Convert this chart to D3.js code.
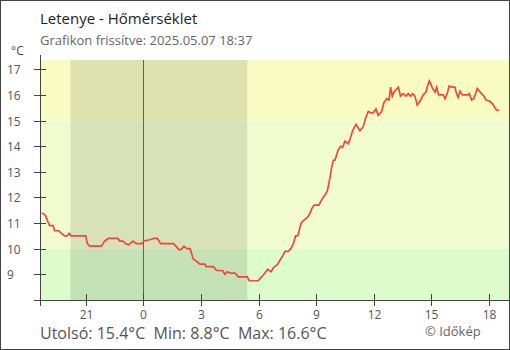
<!DOCTYPE html>
<html><head><meta charset="utf-8">
<script src="https://cdn.jsdelivr.net/npm/d3@7"></script>
<style>
body{margin:0;background:#fff;}
svg{display:block;font-family:"Open Sans",sans-serif;}
</style></head>
<body>
<svg id="c" width="510" height="350"></svg>
<script>
const title = "Letenye - Hőmérséklet";
const subtitle = "Grafikon frissítve: 2025.05.07 18:37";
const footer = "Utolsó: 15.4°C  Min: 8.8°C  Max: 16.6°C";
const credit = "© Időkép";
const xDomain = ["2025-05-06 18:37", "2025-05-07 19:03"];
const nightSpan = ["2025-05-06 20:12", "2025-05-07 05:25"];
const midnight = "2025-05-07 00:00";
const xTickHours = [21, 0, 3, 6, 9, 12, 15, 18];
const yTicks = [8, 9, 10, 11, 12, 13, 14, 15, 16, 17];
const bandLimits = [8, 10, 15, 17.36];
const bandColors = ["#dcfccc", "#f0fccf", "#f8fcc2"];
const times = [
"2025-05-06 18:43","2025-05-06 18:54","2025-05-06 19:00","2025-05-06 19:07","2025-05-06 19:18","2025-05-06 19:23",
"2025-05-06 19:36","2025-05-06 19:44","2025-05-06 19:54","2025-05-06 20:02","2025-05-06 20:08","2025-05-06 20:15",
"2025-05-06 21:00","2025-05-06 21:05","2025-05-06 21:12","2025-05-06 21:49","2025-05-06 21:59","2025-05-06 22:10",
"2025-05-06 22:41","2025-05-06 22:46","2025-05-06 22:57","2025-05-06 23:04","2025-05-06 23:14","2025-05-06 23:28",
"2025-05-06 23:38","2025-05-06 23:56","2025-05-07 00:02","2025-05-07 00:20","2025-05-07 00:33","2025-05-07 00:44",
"2025-05-07 00:54","2025-05-07 01:34","2025-05-07 01:42","2025-05-07 01:52","2025-05-07 02:00","2025-05-07 02:07",
"2025-05-07 02:16","2025-05-07 02:26","2025-05-07 02:31","2025-05-07 02:36","2025-05-07 02:47","2025-05-07 02:57",
"2025-05-07 03:13","2025-05-07 03:16","2025-05-07 03:39","2025-05-07 03:49","2025-05-07 04:08","2025-05-07 04:15",
"2025-05-07 04:22","2025-05-07 04:31","2025-05-07 04:46","2025-05-07 04:54","2025-05-07 04:57","2025-05-07 05:25",
"2025-05-07 05:31","2025-05-07 05:59","2025-05-07 06:10","2025-05-07 06:20","2025-05-07 06:29","2025-05-07 06:39",
"2025-05-07 06:46","2025-05-07 07:00","2025-05-07 07:07","2025-05-07 07:17","2025-05-07 07:23","2025-05-07 07:33",
"2025-05-07 07:41","2025-05-07 07:49","2025-05-07 07:56","2025-05-07 08:02","2025-05-07 08:07","2025-05-07 08:13",
"2025-05-07 08:20","2025-05-07 08:31","2025-05-07 08:38","2025-05-07 08:46","2025-05-07 08:54","2025-05-07 09:09",
"2025-05-07 09:15","2025-05-07 09:22","2025-05-07 09:31","2025-05-07 09:36","2025-05-07 09:40","2025-05-07 09:44",
"2025-05-07 09:49","2025-05-07 09:54","2025-05-07 09:59","2025-05-07 10:04","2025-05-07 10:09","2025-05-07 10:17",
"2025-05-07 10:23","2025-05-07 10:30","2025-05-07 10:41","2025-05-07 10:48","2025-05-07 10:54","2025-05-07 11:05",
"2025-05-07 11:10","2025-05-07 11:17","2025-05-07 11:27","2025-05-07 11:35","2025-05-07 11:43","2025-05-07 11:51",
"2025-05-07 11:59","2025-05-07 12:07","2025-05-07 12:14","2025-05-07 12:25","2025-05-07 12:32","2025-05-07 12:41",
"2025-05-07 12:48","2025-05-07 12:53","2025-05-07 12:58","2025-05-07 13:03","2025-05-07 13:10","2025-05-07 13:17",
"2025-05-07 13:24","2025-05-07 13:32","2025-05-07 13:41","2025-05-07 13:48","2025-05-07 13:56","2025-05-07 14:02",
"2025-05-07 14:09","2025-05-07 14:16","2025-05-07 14:25","2025-05-07 14:35","2025-05-07 14:43","2025-05-07 14:51",
"2025-05-07 14:54","2025-05-07 14:58","2025-05-07 15:04","2025-05-07 15:12","2025-05-07 15:17","2025-05-07 15:23",
"2025-05-07 15:38","2025-05-07 15:43","2025-05-07 15:50","2025-05-07 15:56","2025-05-07 16:04","2025-05-07 16:14",
"2025-05-07 16:19","2025-05-07 16:24","2025-05-07 16:30","2025-05-07 16:37","2025-05-07 16:56","2025-05-07 16:59",
"2025-05-07 17:06","2025-05-07 17:13","2025-05-07 17:20","2025-05-07 17:24","2025-05-07 17:30","2025-05-07 17:37",
"2025-05-07 17:45","2025-05-07 17:51","2025-05-07 18:03","2025-05-07 18:12","2025-05-07 18:19","2025-05-07 18:24",
"2025-05-07 18:32"];
const temps = [
11.4,11.3,11.1,10.9,10.9,10.7,
10.7,10.6,10.5,10.5,10.6,10.5,
10.5,10.2,10.1,10.1,10.3,10.4,
10.4,10.3,10.3,10.2,10.15,10.3,
10.2,10.2,10.3,10.35,10.4,10.4,
10.2,10.2,10.1,9.95,10.0,10.1,
10.0,10.0,9.8,9.6,9.5,9.4,
9.4,9.3,9.3,9.15,9.15,9.0,
9.1,9.05,9.05,8.95,8.9,8.9,
8.75,8.75,8.9,9.05,9.2,9.1,
9.25,9.4,9.55,9.75,9.9,9.9,
10.0,10.2,10.5,10.5,10.7,11.0,
11.1,11.2,11.3,11.55,11.7,11.7,
11.85,12.0,12.15,12.3,12.55,12.8,
13.2,13.45,13.45,13.65,13.85,14.0,
13.95,14.2,14.1,14.35,14.6,14.85,
14.75,14.6,14.75,15.1,15.35,15.3,
15.3,15.45,15.2,15.35,15.7,15.85,
15.8,16.3,15.95,16.1,16.2,16.3,
15.95,16.05,15.95,16.05,15.95,16.05,
15.95,15.6,15.75,16.0,16.1,16.45,
16.55,16.45,16.25,16.1,16.3,16.0,
16.0,15.85,16.05,16.35,16.3,16.3,
16.05,15.9,16.15,16.0,16.0,16.05,
15.8,15.85,16.1,16.25,16.15,16.05,
15.95,15.8,15.75,15.65,15.5,15.4,
15.4];

const parse = d3.timeParse("%Y-%m-%d %H:%M");
const data = times.map((t, i) => ({t: parse(t), v: temps[i]}));
const svg = d3.select("#c");
const L = 40, R = 509, T = 60, B = 300;
const x = d3.scaleTime().domain(xDomain.map(parse)).range([L, R]);
const y = d3.scaleLinear().domain([bandLimits[0], bandLimits[3]]).range([B, T]);

// frame
svg.append("rect").attr("x", 0.5).attr("y", 0.5).attr("width", 509).attr("height", 349)
  .attr("fill", "#fff").attr("stroke", "#444");

// bands
bandColors.forEach((c, i) => {
  svg.append("rect").attr("x", L).attr("width", R - L)
    .attr("y", y(bandLimits[i + 1])).attr("height", y(bandLimits[i]) - y(bandLimits[i + 1]))
    .attr("fill", c);
});
// night
const n0 = x(parse(nightSpan[0])), n1 = x(parse(nightSpan[1]));
svg.append("rect").attr("x", n0).attr("width", n1 - n0).attr("y", T).attr("height", B - T)
  .attr("fill", "#000").attr("opacity", 0.1);
// midnight line
const mx = Math.round(x(parse(midnight))) + 0.5;
svg.append("line").attr("x1", mx).attr("x2", mx).attr("y1", T).attr("y2", B)
  .attr("stroke", "#2a6fae").attr("stroke-width", 1);

// line
const line = d3.line().x(d => x(d.t)).y(d => y(d.v));
svg.append("path").datum(data).attr("d", line).attr("fill", "none")
  .attr("stroke", "#f5453c").attr("stroke-width", 1.7).attr("stroke-linejoin", "miter");

// axes
const axCol = "#444";
svg.append("line").attr("x1", L + 0.5).attr("x2", L + 0.5).attr("y1", 55).attr("y2", B + 6).attr("stroke", axCol);
svg.append("line").attr("x1", 34).attr("x2", R).attr("y1", B + 0.5).attr("y2", B + 0.5).attr("stroke", axCol);
yTicks.forEach(v => {
  const yy = Math.round(y(v)) + 0.5;
  svg.append("line").attr("x1", 34).attr("x2", 46).attr("y1", yy).attr("y2", yy).attr("stroke", axCol);
  if (v > 8) svg.append("text").attr("x", 7).attr("y", yy).attr("dy", "0.35em")
    .attr("font-size", 12).attr("fill", "#555").text(v);
});
const base = parse(midnight);
const xt = [x.domain()[0]].concat(xTickHours.map(h => d3.timeHour.offset(base, h > 19 ? h - 24 : h)));
xt.forEach((d, i) => {
  const xx = Math.round(x(d)) + 0.5;
  svg.append("line").attr("x1", xx).attr("x2", xx).attr("y1", B - 6).attr("y2", B + 6).attr("stroke", axCol);
  if (i > 0) svg.append("text").attr("x", xx).attr("y", 319).attr("text-anchor", "middle")
    .attr("font-size", 12).attr("fill", "#555").text(d3.timeFormat("%-H")(d));
});

// texts
svg.append("text").attr("x", 40).attr("y", 24).attr("font-size", 15).attr("fill", "#222").text(title);
svg.append("text").attr("x", 40).attr("y", 45).attr("font-size", 13).attr("fill", "#666").text(subtitle);
svg.append("text").attr("x", 11).attr("y", 55).attr("font-size", 12).attr("fill", "#444").text("°C");
svg.append("text").attr("x", 40).attr("y", 339).attr("font-size", 16).attr("fill", "#555")
  .attr("xml:space", "preserve").style("white-space", "pre").text(footer);
svg.append("text").attr("x", 425).attr("y", 336).attr("font-size", 13).attr("fill", "#666").text(credit);
</script>
</body></html>
